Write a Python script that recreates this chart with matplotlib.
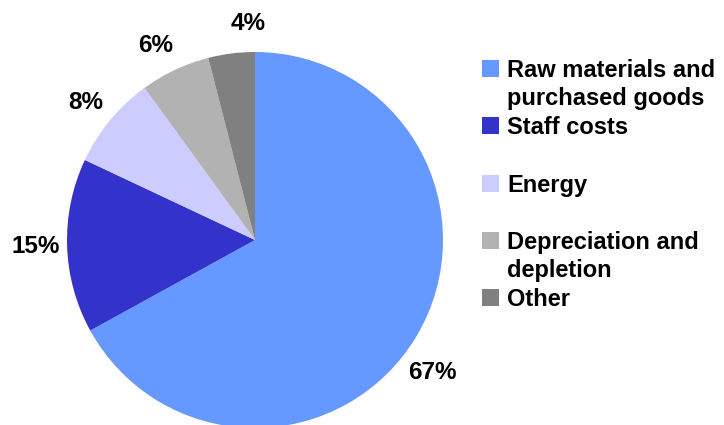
import matplotlib.pyplot as plt
from matplotlib.patches import Rectangle

categories = ['Raw materials and\npurchased goods', 'Staff costs', 'Energy',
              'Depreciation and\ndepletion', 'Other']
shares = [67, 15, 8, 6, 4]
colors = ['#6699FF', '#3333CC', '#CCCCFF', '#B2B2B2', '#808080']

# where the % labels sit, in pie radius units
label_pos = [(0.941, -0.707), (-1.165, -0.037), (-0.899, 0.734),
             (-0.527, 1.037), (-0.037, 1.149)]

plt.rcParams['font.family'] = ['Liberation Sans', 'DejaVu Sans']

W, H = 724, 425
fig = plt.figure(figsize=(W / 100, H / 100), dpi=100)

cx, cy, r = 255, 240, 188
ax = fig.add_axes([(cx - r) / W, (H - cy - r) / H, 2 * r / W, 2 * r / H])
ax.pie(shares, colors=colors, startangle=90, counterclock=False,
       radius=1, wedgeprops=dict(linewidth=0))
ax.set_xlim(-1, 1)
ax.set_ylim(-1, 1)
ax.set_aspect('auto')
ax.axis('off')
for v, (x, y) in zip(shares, label_pos):
    ax.text(x, y, f'{v}%', ha='center', va='center', fontsize=17.5,
            fontweight='bold', clip_on=False)

# legend drawn by hand (square aligned with first line of each label)
row_top = [60, 117, 175, 232, 289]
sq = 17
for lab, c, top in zip(categories, colors, row_top):
    fig.add_artist(Rectangle((482 / W, (H - top - sq) / H), sq / W, sq / H,
                             transform=fig.transFigure, color=c, lw=0))
    for i, line in enumerate(lab.split('\n')):
        base = top + sq + i * 28
        fig.text(507 / W, (H - base) / H, line, ha='left', va='baseline',
                 fontsize=17, fontweight='bold')

fig.savefig('out.png', dpi=100)
